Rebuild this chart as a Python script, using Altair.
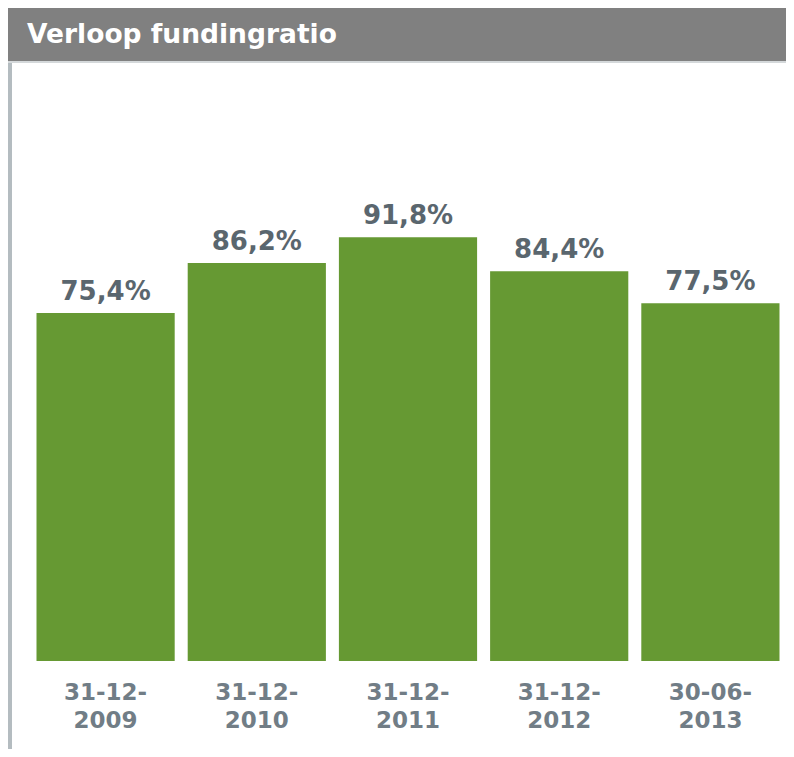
import altair as alt
import pandas as pd

title_text = "Verloop fundingratio"
dates = ["31-12-2009", "31-12-2010", "31-12-2011", "31-12-2012", "30-06-2013"]
values = [75.4, 86.2, 91.8, 84.4, 77.5]

df = pd.DataFrame({"datum": dates, "waarde": values})

GREEN = "#669933"
VALUE_COLOR = "#5a666e"
AXIS_COLOR = "#717d86"
FONT = "DejaVu Sans"

x_enc = alt.X(
    "datum:N",
    sort=None,
    scale=alt.Scale(paddingInner=0.086, paddingOuter=0.043),
    axis=alt.Axis(
        title=None,
        domain=False,
        ticks=False,
        tickSize=0,
        grid=False,
        labelAngle=0,
        labelFont=FONT,
        labelFontWeight="bold",
        labelFontSize=23,
        labelColor=AXIS_COLOR,
        labelPadding=38,
        labelBaseline="alphabetic",
        labelLineHeight=28,
        labelOverlap=False,
        labelExpr="[slice(datum.label, 0, 6), slice(datum.label, 6)]",
    ),
)
y_enc = alt.Y("waarde:Q", scale=alt.Scale(domain=[0, 120]), axis=None)

base = alt.Chart(df)

bars = base.mark_bar(color=GREEN).encode(x=x_enc, y=y_enc)

labels = base.transform_calculate(
    lbl="replace(format(datum.waarde, '.1f'), '.', ',') + '%'"
).mark_text(
    dy=-13,
    baseline="alphabetic",
    align="center",
    font=FONT,
    fontWeight="bold",
    fontSize=26,
    color=VALUE_COLOR,
).encode(x=x_enc, y=y_enc, text="lbl:N")

tdf = pd.DataFrame({"t": [title_text]})
tbase = alt.Chart(tdf)

title_bar = tbase.mark_rect(color="#808080").encode(
    x=alt.value(-22), x2=alt.value(756), y=alt.value(-99), y2=alt.value(-46)
)
title_line = tbase.mark_rect(color="#d4d8da").encode(
    x=alt.value(-22), x2=alt.value(756), y=alt.value(-46), y2=alt.value(-44)
)
left_border = tbase.mark_rect(color="#b4bcc0").encode(
    x=alt.value(-22), x2=alt.value(-18), y=alt.value(-44), y2=alt.value(642)
)
title_label = tbase.mark_text(
    align="left",
    baseline="alphabetic",
    font=FONT,
    fontWeight="bold",
    fontSize=26.5,
    color="white",
).encode(x=alt.value(-3), y=alt.value(-64), text="t:N")

chart = alt.layer(
    title_bar, title_line, left_border, title_label, bars, labels
).properties(
    width=756,
    height=554,
    autosize=alt.AutoSizeParams(type="none"),
    padding={"left": 22, "top": 99, "right": 0, "bottom": 88},
    background="white",
).configure_view(stroke=None)

chart.save("out.html", embed_options={"renderer": "svg", "actions": False})
